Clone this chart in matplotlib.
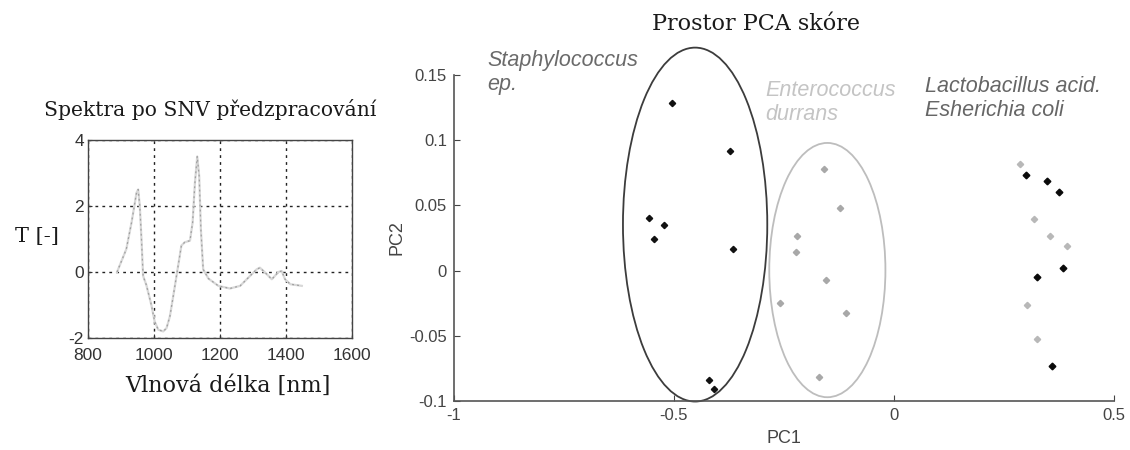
import matplotlib
matplotlib.use("Agg")
import matplotlib.pyplot as plt
from matplotlib.patches import Ellipse

plt.rcParams["axes.unicode_minus"] = False

# ---------------- data ----------------
wavelength = [888, 916, 932, 947, 952, 957, 962, 967, 977, 992, 1002, 1013, 1028,
              1038, 1048, 1058, 1073, 1083, 1093, 1109, 1117, 1124, 1131, 1137,
              1142, 1149, 1165, 1195, 1230, 1261, 1286, 1311, 1321, 1337, 1357,
              1377, 1387, 1397, 1413, 1448]
transmit = [0.0, 0.69, 1.5, 2.4, 2.5, 2.0, 1.0, -0.12, -0.4, -1.0, -1.5, -1.75, -1.8,
            -1.7, -1.35, -0.75, 0.18, 0.8, 0.9, 0.95, 1.5, 2.7, 3.5, 2.9,
            1.3, 0.08, -0.2, -0.42, -0.5, -0.42, -0.17, 0.08, 0.13, -0.02, -0.22,
            0.0, 0.03, -0.22, -0.37, -0.42]

staph_pc1 = [-0.505, -0.373, -0.556, -0.523, -0.546, -0.365, -0.420, -0.410]
staph_pc2 = [0.1286, 0.0915, 0.0404, 0.0348, 0.0245, 0.0166, -0.0836, -0.0905]

entero_pc1 = [-0.158, -0.123, -0.221, -0.223, -0.155, -0.258, -0.109, -0.171]
entero_pc2 = [0.0782, 0.0478, 0.0266, 0.0143, -0.0069, -0.0248, -0.0327, -0.0818]

lacto_pc1 = [0.2856, 0.319, 0.354, 0.394, 0.302, 0.325]
lacto_pc2 = [0.0821, 0.0396, 0.0263, 0.0192, -0.0266, -0.0521]

ecoli_pc1 = [0.299, 0.347, 0.374, 0.385, 0.325, 0.358]
ecoli_pc2 = [0.0731, 0.069, 0.0603, 0.0021, -0.0046, -0.0734]

# cluster ellipses: (center PC1, center PC2, full width, full height)
staph_ellipse = (-0.452, 0.0353, 0.328, 0.2714)
entero_ellipse = (-0.1515, 0.0004, 0.264, 0.195)

spec_xticks = [800, 1000, 1200, 1400, 1600]
spec_yticks = [-2, 0, 2, 4]
pc1_ticks = [-1, -0.5, 0, 0.5]
pc1_ticklabels = ["-1", "-0.5", "0", "0.5"]
pc2_ticks = [-0.1, -0.05, 0, 0.05, 0.1, 0.15]
pc2_ticklabels = ["-0.1", "-0.05", "0", "0.05", "0.1", "0.15"]

# ---------------- figure ----------------
fig = plt.figure(figsize=(11.3, 4.5), dpi=100)
SERIF = "DejaVu Serif"
SANS = "Liberation Sans"

# left: spectrum
ax1 = fig.add_axes([88/1130, 1 - 338/450, 264/1130, 198/450])
ax1.plot(wavelength, transmit, color="#d8d8d8", lw=1.6, zorder=2)
ax1.plot(wavelength, transmit, color="#a0a0a0", lw=0.9, ls=(0, (1.5, 2.5)), zorder=3)
ax1.set_xlim(800, 1600)
ax1.set_ylim(-2, 4)
ax1.set_xticks(spec_xticks)
ax1.set_yticks(spec_yticks)
ax1.grid(True, color="#222222", ls=(0, (2, 3)), lw=1.0)
ax1.tick_params(direction="in", length=3, labelsize=12.5, colors="#333333")
ax1.tick_params(axis="x", pad=7)
ax1.tick_params(axis="y", pad=3)
for lab in ax1.get_xticklabels() + ax1.get_yticklabels():
    lab.set_fontfamily(SANS)
for s in ax1.spines.values():
    s.set_color("#444444")
    s.set_linewidth(1.0)
fig.text(210/1130, 1 - 110/450, "Spektra po SNV předzpracování", family=SERIF,
         fontsize=14.6, ha="center", va="center", color="#1a1a1a")
fig.text(37/1130, 1 - 236/450, "T [-]", family=SERIF, fontsize=15,
         ha="center", va="center", color="#1a1a1a")
fig.text(228/1130, 1 - 386/450, "Vlnová délka [nm]", family=SERIF, fontsize=16,
         ha="center", va="center", color="#1a1a1a")

# right: PCA scores
ax2 = fig.add_axes([454/1130, 1 - 401/450, 660/1130, 326/450])
ax2.set_xlim(-1, 0.5)
ax2.set_ylim(-0.1, 0.15)
for (cx, cy, w, h), col in [(staph_ellipse, "#3c3c3c"), (entero_ellipse, "#bdbdbd")]:
    e = Ellipse((cx, cy), w, h, fill=False, edgecolor=col, lw=1.3, clip_on=False, zorder=2)
    ax2.add_patch(e)
ax2.plot(staph_pc1, staph_pc2, ls="none", marker="D", ms=3.2, color="#111111", zorder=4)
ax2.plot(entero_pc1, entero_pc2, ls="none", marker="D", ms=3.2, color="#a8a8a8", zorder=4)
ax2.plot(lacto_pc1, lacto_pc2, ls="none", marker="D", ms=3.2, color="#b8b8b8", zorder=4)
ax2.plot(ecoli_pc1, ecoli_pc2, ls="none", marker="D", ms=3.4, color="#0a0a0a", zorder=4)
ax2.set_xticks(pc1_ticks)
ax2.set_xticklabels(pc1_ticklabels)
ax2.set_yticks(pc2_ticks)
ax2.set_yticklabels(pc2_ticklabels)
ax2.spines["top"].set_visible(False)
ax2.spines["right"].set_visible(False)
for s in ("left", "bottom"):
    ax2.spines[s].set_color("#555555")
    ax2.spines[s].set_linewidth(1.2)
ax2.tick_params(direction="in", length=4, labelsize=12, colors="#444444", pad=5)
for lab in ax2.get_xticklabels() + ax2.get_yticklabels():
    lab.set_fontfamily(SANS)
ax2.set_xlabel("PC1", family=SANS, fontsize=13, color="#444444", labelpad=5)
ax2.set_ylabel("PC2", family=SANS, fontsize=13, color="#444444", labelpad=3)

ax2.text(-0.925, 0.169, "Staphylococcus\nep.", family=SANS, style="italic",
         fontsize=15.5, color="#6a6a6a", ha="left", va="top", linespacing=1.15)
ax2.text(-0.293, 0.146, "Enterococcus\ndurrans", family=SANS, style="italic",
         fontsize=15.5, color="#c4c4c4", ha="left", va="top", linespacing=1.15)
ax2.text(0.071, 0.149, "Lactobacillus acid.\nEsherichia coli", family=SANS, style="italic",
         fontsize=15.5, color="#666666", ha="left", va="top", linespacing=1.15)

fig.text(756/1130, 1 - 24/450, "Prostor PCA skóre", family=SERIF, fontsize=16,
         ha="center", va="center", color="#1a1a1a")

fig.savefig("out.png", dpi=100)
